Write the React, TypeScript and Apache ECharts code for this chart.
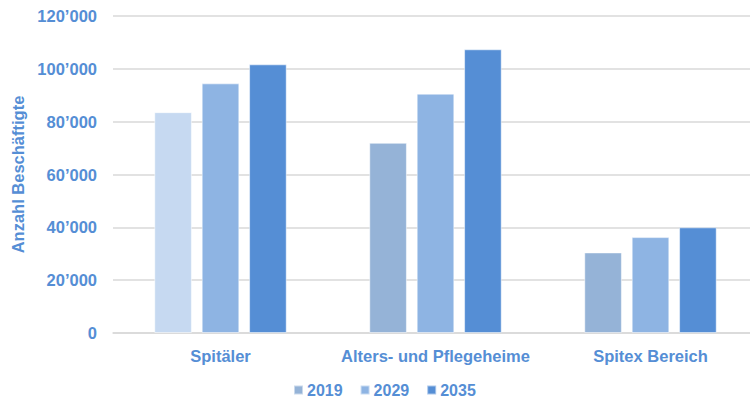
import React, { useEffect, useRef } from "react";
import * as echarts from "echarts";

// Employees by care sector and year
const categories = ["Spitäler", "Alters- und Pflegeheime", "Spitex Bereich"];
const years = ["2019", "2029", "2035"];
const values2019 = [83600, 72000, 30500];
const values2029 = [94500, 90600, 36300];
const values2035 = [101700, 107400, 40000];

const yTicks = [0, 20000, 40000, 60000, 80000, 100000, 120000];

const colors = ["#95B3D7", "#8EB4E3", "#558ED5"];
const firstBarColor = "#C6D9F1";
const textColor = "#558ED5";
const font = "'Liberation Sans', Arial, sans-serif";

const fmt = (v: number) =>
  v === 0 ? "0" : `${Math.floor(v / 1000)}’${String(v % 1000).padStart(3, "0")}`;

export default function App() {
  const ref = useRef<HTMLDivElement>(null);

  useEffect(() => {
    if (!ref.current) return;
    const chart = echarts.init(ref.current, undefined, { renderer: "svg" });
    const seriesData = [values2019, values2029, values2035];
    const label = { color: textColor, fontFamily: font, fontWeight: "bold" as const, fontSize: 16.5 };
    chart.setOption({
      animation: false,
      backgroundColor: "#ffffff",
      // the plot area runs a little past the right edge of the view
      grid: {
        left: 113,
        right: 0,
        top: 16,
        bottom: 68,
        containLabel: false,
        outerBoundsMode: "none",
      },
      legend: {
        top: 382,
        left: 293,
        padding: 0,
        itemWidth: 9,
        itemHeight: 9,
        itemGap: 17,
        icon: "rect",
        textStyle: { ...label, fontSize: 16, padding: [0, 0, 0, -1] },
        data: years,
      },
      xAxis: {
        type: "category",
        data: categories,
        axisLine: { lineStyle: { color: "#D9D9D9", width: 1.5 } },
        axisTick: { show: false },
        axisLabel: { ...label, interval: 0, margin: 14 },
      },
      yAxis: {
        type: "value",
        min: 0,
        max: 120000,
        interval: 20000,
        name: "Anzahl Beschäftigte",
        nameLocation: "middle",
        nameGap: 86,
        nameRotate: 90,
        nameTextStyle: label,
        axisLine: { show: false },
        axisTick: { show: false },
        splitLine: { lineStyle: { color: "#D9D9D9", width: 1.5 } },
        axisLabel: {
          ...label,
          margin: 16,
          customValues: yTicks,
          formatter: (v: number) => fmt(v),
        },
      },
      series: years.map((y, i) => ({
        name: y,
        type: "bar",
        barWidth: "17.5%",
        barGap: "26%",
        itemStyle: { color: colors[i], borderColor: "rgba(255,255,255,0.5)", borderWidth: 1 },
        data: seriesData[i].map((v, j) =>
          i === 0 && j === 0 ? { value: v, itemStyle: { color: firstBarColor } } : v
        ),
      })),
    });
    return () => chart.dispose();
  }, []);

  return (
    <div style={{ position: "fixed", left: 0, top: 0, width: 750, height: 401, overflow: "hidden" }}>
      <div ref={ref} style={{ width: 758, height: 401 }} />
    </div>
  );
}
